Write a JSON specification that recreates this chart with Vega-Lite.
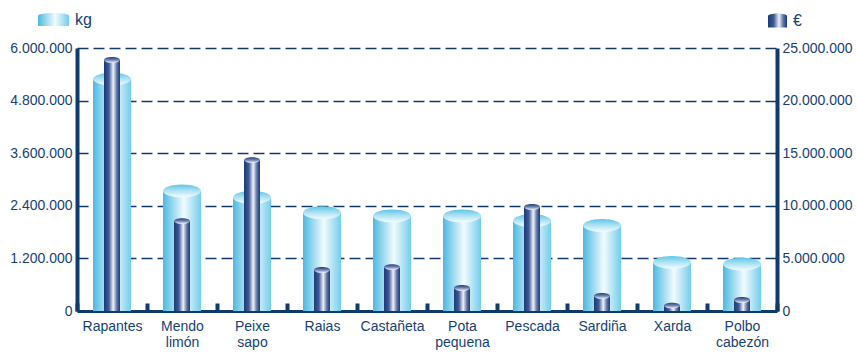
{
  "$schema": "https://vega.github.io/schema/vega-lite/v6.json",
  "autosize": {"type": "none"},
  "width": 700,
  "height": 263,
  "padding": {"left": 77, "top": 48, "right": 80, "bottom": 44},
  "background": "white",
  "config": {
    "view": {"stroke": null},
    "locale": {"number": {"decimal": ",", "thousands": ".", "grouping": [3], "currency": ["", " €"]}},
    "axis": {"labelFont": "Liberation Sans", "labelFontSize": 14, "labelColor": "#173f74", "domainColor": "#113a6c", "tickColor": "#113a6c", "titleFont": "Liberation Sans"},
    "legend": {"labelFont": "Liberation Sans", "labelFontSize": 16, "labelColor": "#173f74", "padding": 0}
  },
  "data": {"values": [
    {"cat": "Rapantes", "kg": 5290000, "eur": 23860000},
    {"cat": "Mendo limón", "kg": 2740000, "eur": 8550000},
    {"cat": "Peixe sapo", "kg": 2590000, "eur": 14350000},
    {"cat": "Raias", "kg": 2240000, "eur": 3900000},
    {"cat": "Castañeta", "kg": 2170000, "eur": 4180000},
    {"cat": "Pota pequena", "kg": 2170000, "eur": 2190000},
    {"cat": "Pescada", "kg": 2060000, "eur": 9890000},
    {"cat": "Sardiña", "kg": 1950000, "eur": 1430000},
    {"cat": "Xarda", "kg": 1110000, "eur": 520000},
    {"cat": "Polbo cabezón", "kg": 1070000, "eur": 1050000}
  ]},
  "encoding": {
    "x": {"field": "cat", "type": "nominal", "sort": null,
      "scale": {"paddingInner": 0, "paddingOuter": 0},
      "axis": {"title": null, "labelAngle": 0, "domainWidth": 3, "ticks": true, "tickBand": "extent", "tickSize": -8, "tickWidth": 4, "labelPadding": 16, "grid": false,
        "labelExpr": "split(datum.label, ' ')", "labelLineHeight": 16, "labelBaseline": "top"}}
  },
  "layer": [
    {
      "encoding": {
        "y": {"field": "kg", "type": "quantitative",
          "scale": {"domain": [0, 6000000], "nice": false},
          "axis": {"orient": "left", "title": null, "values": [0, 1200000, 2400000, 3600000, 4800000, 6000000], "format": ",.0f", "ticks": false, "domainWidth": 4, "labelPadding": 5,
            "grid": true, "gridDash": [11, 5], "gridColor": "#113a6c", "gridWidth": 1.5}}
      },
      "layer": [
        {"mark": {"type": "bar", "width": 38,
          "color": {"gradient": "linear", "x1": 0, "y1": 0, "x2": 1, "y2": 0, "stops": [{"offset": 0, "color": "#4bb9e1"}, {"offset": 0.55, "color": "#f2fbfe"}, {"offset": 1, "color": "#74cdec"}]}}},
        {"mark": {"type": "point", "filled": true, "size": 1444, "opacity": 1, "strokeWidth": 0,
          "shape": "M-1,0A1,0.34,0,1,1,1,0A1,0.34,0,1,1,-1,0Z",
          "color": {"gradient": "linear", "x1": 0, "y1": 0, "x2": 0, "y2": 1, "stops": [{"offset": 0, "color": "#5cc5e8"}, {"offset": 0.45, "color": "#a8e1f3"}, {"offset": 1, "color": "#f5fcff"}]}}},
        {"transform": [{"filter": "false"}],
          "mark": {"type": "point", "filled": true, "size": 961, "opacity": 1, "strokeWidth": 0,
          "color": {"gradient": "linear", "x1": 0, "y1": 0, "x2": 1, "y2": 0, "stops": [{"offset": 0, "color": "#4bb9e1"}, {"offset": 0.55, "color": "#f2fbfe"}, {"offset": 1, "color": "#74cdec"}]}},
          "encoding": {
            "shape": {"datum": "kg", "scale": {"domain": ["kg"], "range": ["M-1,-0.25A1,0.17,0,0,1,1,-0.25L1,0.42L-1,0.42Z"]},
              "legend": {"title": null, "orient": "none", "legendX": -40, "legendY": -45, "symbolSize": 961, "labelOffset": 5,
                "encode": {"symbols": {"update": {
                  "size": {"value": 961},
                  "opacity": {"value": 1},
                  "strokeWidth": {"value": 0},
                  "fill": {"value": {"gradient": "linear", "x1": 0, "y1": 0, "x2": 1, "y2": 0, "stops": [{"offset": 0, "color": "#4bb9e1"}, {"offset": 0.55, "color": "#f2fbfe"}, {"offset": 1, "color": "#74cdec"}]}}
                }}}}}
          }}
      ]
    },
    {
      "encoding": {
        "y": {"field": "eur", "type": "quantitative",
          "scale": {"domain": [0, 25000000], "nice": false},
          "axis": {"orient": "right", "title": null, "values": [0, 5000000, 10000000, 15000000, 20000000, 25000000], "format": ",.0f", "ticks": false, "domainWidth": 4, "labelPadding": 5, "grid": false}}
      },
      "layer": [
        {"mark": {"type": "bar", "width": 16,
          "color": {"gradient": "linear", "x1": 0, "y1": 0, "x2": 1, "y2": 0, "stops": [{"offset": 0, "color": "#1c3a78"}, {"offset": 0.3, "color": "#3e5a95"}, {"offset": 0.58, "color": "#f0f2f8"}, {"offset": 0.8, "color": "#5e76a8"}, {"offset": 1, "color": "#1c3a78"}]}}},
        {"mark": {"type": "point", "filled": true, "size": 256, "opacity": 1, "strokeWidth": 0,
          "shape": "M-1,0A1,0.36,0,1,1,1,0A1,0.36,0,1,1,-1,0Z",
          "color": {"gradient": "linear", "x1": 0, "y1": 0, "x2": 0, "y2": 1, "stops": [{"offset": 0, "color": "#24407e"}, {"offset": 0.5, "color": "#7083b2"}, {"offset": 1, "color": "#f4f6fb"}]}}},
        {"transform": [{"filter": "false"}],
          "mark": {"type": "point", "filled": true, "size": 361, "opacity": 1, "strokeWidth": 0,
          "color": {"gradient": "linear", "x1": 0, "y1": 0, "x2": 1, "y2": 0, "stops": [{"offset": 0, "color": "#1c3a78"}, {"offset": 0.3, "color": "#3e5a95"}, {"offset": 0.58, "color": "#f0f2f8"}, {"offset": 0.8, "color": "#5e76a8"}, {"offset": 1, "color": "#1c3a78"}]}},
          "encoding": {
            "shape": {"datum": "€", "scale": {"domain": ["€"], "range": ["M-1,-0.5A1,0.25,0,0,1,1,-0.5L1,0.74L-1,0.74Z"]},
              "legend": {"title": null, "orient": "none", "legendX": 690, "legendY": -38, "symbolSize": 361, "labelOffset": 5,
                "encode": {"symbols": {"update": {
                  "size": {"value": 361},
                  "opacity": {"value": 1},
                  "strokeWidth": {"value": 0},
                  "fill": {"value": {"gradient": "linear", "x1": 0, "y1": 0, "x2": 1, "y2": 0, "stops": [{"offset": 0, "color": "#1c3a78"}, {"offset": 0.3, "color": "#3e5a95"}, {"offset": 0.58, "color": "#f0f2f8"}, {"offset": 0.8, "color": "#5e76a8"}, {"offset": 1, "color": "#1c3a78"}]}}
                }}}}}
          }}
      ]
    }
  ],
  "resolve": {"scale": {"y": "independent", "shape": "independent"}, "legend": {"shape": "independent"}}
}
